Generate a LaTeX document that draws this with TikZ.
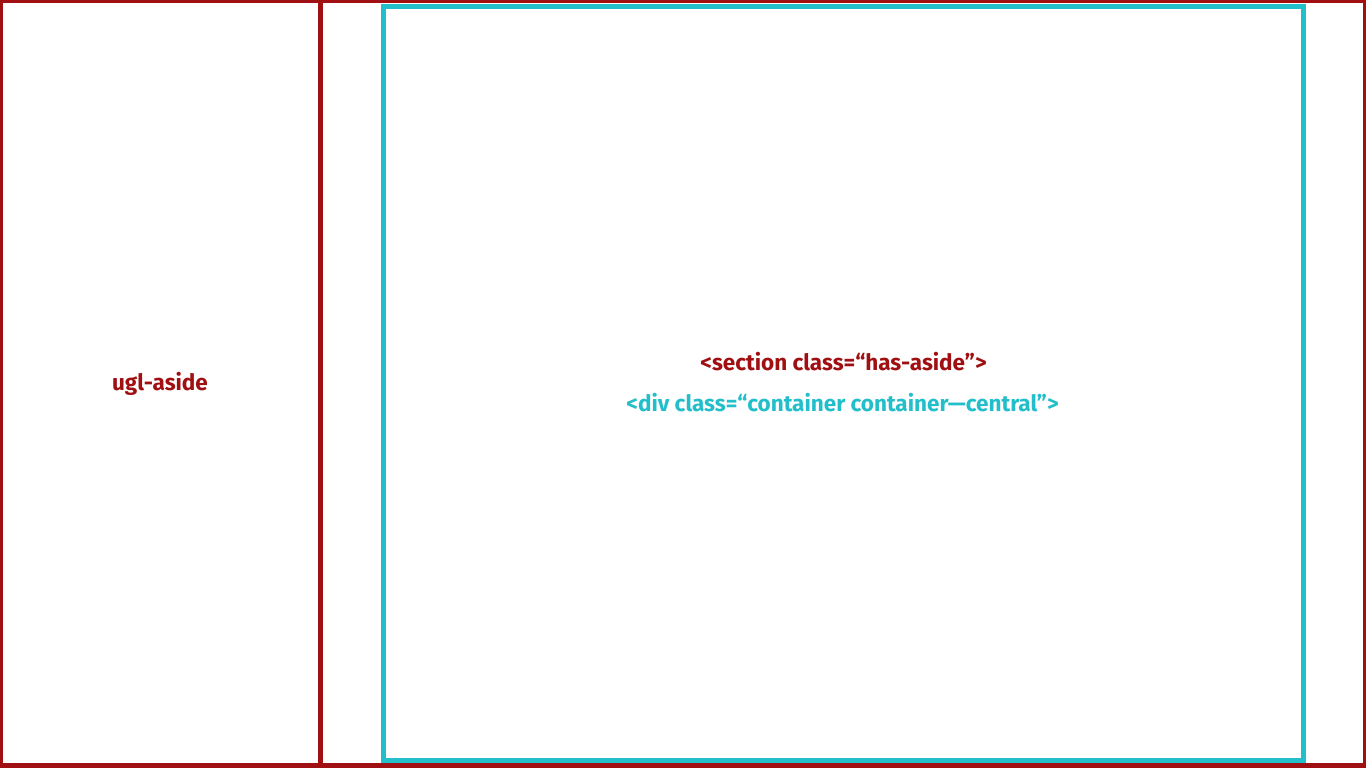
\documentclass[tikz,border=0pt]{standalone}
\usepackage{fontspec}
\setmainfont{Fira Sans}
\definecolor{dred}{HTML}{A01012}
\definecolor{teal2}{HTML}{22BFCA}
\begin{document}
\begin{tikzpicture}[x=1pt,y=-1pt,
  redbox/.style={draw=dred,line width=2.7pt},
  tealbox/.style={draw=teal2,line width=5pt},
  lbl/.style={font=\fontsize{22.5}{26}\selectfont\bfseries,inner sep=0pt,anchor=base}]
\useasboundingbox (0,0) rectangle (1366,768);
\fill[white] (0,0) rectangle (1366,768);
\draw[redbox] (1.35,1.35) rectangle (319.3,766) coordinate (asidecorner);
\draw[redbox] (321.3,1.35) rectangle (1364.65,766);
\fill[dred] (0,763.3) rectangle (1366,768);
\node[tealbox,minimum width=920pt,minimum height=754pt,inner sep=0pt] (container) at (843,383.8) {};
\node[lbl,text=dred] (sectionlbl) at (843.5,370.7) {<section class=“has-aside”>};
\node[lbl,text=teal2] (divlbl) at (842.5,411.7) {<div class=“container container—central”>};
\node[lbl,text=dred] (asidelbl) at (160,390.5) {ugl-aside};
\end{tikzpicture}
\end{document}
